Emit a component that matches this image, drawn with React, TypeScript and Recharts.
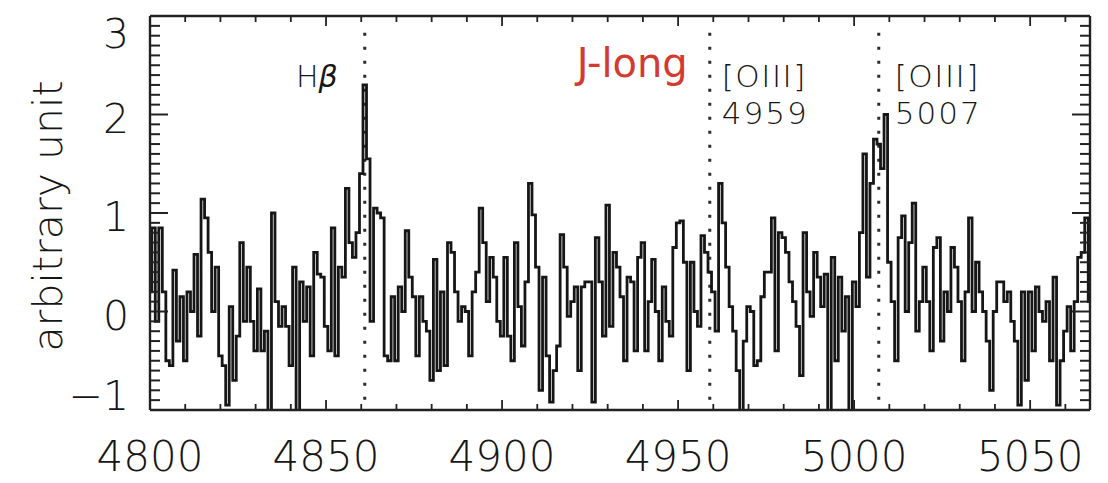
import React from 'react';
import { LineChart, Line, XAxis, YAxis, ReferenceLine } from 'recharts';

// ---- data (flux per 1 Å bin) ----
const flux4800 = [0.2, 0.85, -0.1, 0.85, 0.2, -0.5, -0.55, 0.42, -0.3, 0.15,
  -0.5, 0.2, 0.0, 0.58, -0.25, 1.14, 0.95, 0.6, 0.0, 0.45,
  -0.45, -0.55, -0.95, 0.05, -0.7, -0.25, 0.7, -0.1, 0.45, -0.1,
  -0.4, 0.23, -0.4, -0.2, -1.15, 1.0, 0.1, -0.15, 0.05, -0.15,
  -0.55, 0.45, -1.15, 0.3, -0.1, 0.25, -0.45, 0.6, 0.38, 0.35];
const flux4850 = [-0.15, -0.4, 0.85, -0.45, 0.45, 0.35, 1.25, 0.7, 0.55, 0.8,
  1.4, 2.3, 1.55, -0.1, 1.05, 1.0, 0.95, -0.45, -0.5, 0.15,
  -0.5, 0.25, 0.0, 0.82, 0.35, 0.15, -0.45, 0.15, -0.1, -0.2,
  -0.7, 0.53, -0.6, 0.2, -0.55, 0.7, 0.6, 0.2, -0.1, 0.05,
  0.0, -0.45, 0.2, 0.4, 1.05, 0.7, 0.1, 0.55, 0.35, -0.1];
const flux4900 = [-0.25, 0.55, -0.25, -0.5, 0.7, 0.05, -0.35, 0.3, 1.3, 0.98,
  0.45, -0.8, 0.35, -0.45, -0.92, -0.6, -0.35, 0.78, 0.45, -0.05,
  0.1, 0.25, -0.6, 0.25, 0.3, 0.3, -0.92, 0.75, 0.3, -0.25,
  1.08, -0.15, 0.6, 0.45, 0.15, -0.5, 0.35, 0.3, -0.4, 0.55,
  0.7, -0.4, 0.1, 0.53, 0.0, -0.5, 0.25, -0.1, -0.25, 0.65];
const flux4950 = [0.9, 0.92, 0.5, -0.6, 0.5, 0.0, -0.15, 0.77, 0.6, 0.4,
  0.2, -0.2, 1.3, 0.9, 0.45, 0.05, -0.2, -0.6, -1.15, -0.3,
  0.05, 0.0, -0.55, -0.5, 0.15, 0.4, 0.4, 0.95, -0.4, 0.8,
  0.75, 0.6, 0.3, 0.1, -0.15, -0.65, 0.8, 0.2, -0.05, 0.6,
  0.35, 0.05, 0.38, -1.15, 0.55, -0.5, 0.35, -0.2, 0.15, -1.15];
const flux5000 = [0.3, 0.05, 0.8, 1.6, 0.35, 1.3, 1.75, 1.7, 1.45, 2.0,
  0.5, 0.1, -0.5, 0.75, 0.97, 0.0, 0.7, 1.1, -0.2, 0.1,
  0.45, 0.1, -0.4, 0.65, 0.75, -0.3, 0.2, 0.0, 0.65, 0.45,
  0.1, -0.5, 0.2, 0.95, 0.0, 0.5, 0.2, 0.0, -0.3, -0.8,
  0.0, 0.3, 0.3, 0.1, 0.2, -0.1, -0.3, -0.95, 0.2, -0.7];
const flux5050 = [0.2, -0.4, 0.25, 0.0, -0.1, 0.1, -0.5, 0.35, -0.95, -0.5,
  -0.2, 0.05, -0.4, 0.1, 0.55, 0.6, 0.95, 0.1];

const segmentStarts = [4800, 4850, 4900, 4950, 5000, 5050];
const segments = [flux4800, flux4850, flux4900, flux4950, flux5000, flux5050];

const xDomain = [4800, 5067];
const yDomain = [-1, 3];
const xMajorTicks = [4800, 4850, 4900, 4950, 5000, 5050];
const xMinorTicks = [4800, 4810, 4820, 4830, 4840, 4850, 4860, 4870, 4880, 4890, 4900, 4910, 4920, 4930, 4940, 4950, 4960, 4970, 4980, 4990, 5000, 5010, 5020, 5030, 5040, 5050, 5060];
const yMajorTicks = [-1, 0, 1, 2, 3];
const yMinorTicks = Array.from({ length: 41 }, (_, i) => (i - 10) / 10);

const lineWavelengths = [4861, 4959, 5007];

const data = segments.flatMap((arr, s) => arr.map((v, i) => ({ wl: segmentStarts[s] + i, flux: v })));

// ---- layout ----
const W = 1092;
const H = 475;
const PL = 142;
const PR = 1082;
const PT = 8;
const PB = 402;
const AX = '#222';
const TXT = '#161616';
const FONT = '"DejaVu Sans", "Liberation Sans", sans-serif';

const isMajorY = (v: number) => Math.abs(v - Math.round(v)) < 1e-6;
const fmtY = (v: number) => (v < 0 ? '\u2212' + Math.abs(v) : String(v));

const BottomTick = (props: any) => {
  const { x, payload } = props;
  const v = payload.value;
  const major = xMajorTicks.includes(v);
  const len = major ? 10 : 6;
  return (
    <g>
      <rect x={x - 0.9} y={PB - len} width={1.8} height={len} fill={AX} />
      <rect x={x - 0.9} y={PT} width={1.8} height={len} fill={AX} />
      {major && (
        <text x={x} y={463} textAnchor="middle" fontSize={42} fontWeight={300} fill={TXT} fontFamily={FONT}>{v}</text>
      )}
    </g>
  );
};

const LeftTick = (props: any) => {
  const { y, payload } = props;
  const v = Math.round(payload.value * 10) / 10;
  const major = isMajorY(v);
  const len = major ? 18 : 10;
  let dy = 18;
  if (v === 3) dy = 32;
  if (v === -1) dy = 0;
  return (
    <g>
      <rect x={PL} y={y - 1} width={len} height={2} fill={AX} />
      <rect x={PR - len} y={y - 1} width={len} height={2} fill={AX} />
      {major && yMajorTicks.includes(v) && (
        <text x={121} y={y + dy} textAnchor="end" fontSize={41} fontWeight={300} fill={TXT} fontFamily={FONT}>{fmtY(v)}</text>
      )}
    </g>
  );
};

const makeLineLabel = (idx: number) => (props: any) => {
  const vb = props.viewBox || {};
  const x = vb.x ?? 0;
  if (idx === 0) {
    return (
      <text x={x - 27} y={79} textAnchor="end" fontSize={30} fontWeight={300} fill={TXT} fontFamily={FONT}>
        H<tspan fontStyle="italic">β</tspan>
      </text>
    );
  }
  const num = String(lineWavelengths[idx]);
  const dx = idx === 1 ? 12 : 16;
  return (
    <g>
      {idx === 1 && (
        <text x={x - 22} y={69} textAnchor="end" fontSize={40} fill="#d43a2f" fontFamily={FONT}>J-long</text>
      )}
      <text x={x + dx} y={79} fontSize={31} fontWeight={300} letterSpacing={1.5} fill={TXT} fontFamily={FONT}>[OIII]</text>
      <text x={x + dx} y={116} fontSize={31} fontWeight={300} letterSpacing={2} fill={TXT} fontFamily={FONT}>{num}</text>
    </g>
  );
};

const YTitle = () => (
  <text x={54} y={208} transform="rotate(-90, 54, 208)" textAnchor="middle" fontSize={41} fontWeight={300} fill={TXT} fontFamily={FONT}>
    arbitrary unit
  </text>
);

export default function App() {
  return (
    <div style={{ width: W, height: H }}>
      <LineChart width={W} height={H} data={data} margin={{ top: PT, right: W - PR, left: 0, bottom: 0 }}>
        <XAxis
          dataKey="wl"
          type="number"
          domain={xDomain}
          allowDataOverflow
          ticks={xMinorTicks}
          interval={0}
          height={H - PB}
          tickLine={false}
          axisLine={{ stroke: AX, strokeWidth: 2.4 }}
          tick={BottomTick}
        />
        <YAxis
          type="number"
          domain={yDomain}
          allowDataOverflow
          ticks={yMinorTicks}
          interval={0}
          width={PL}
          tickLine={false}
          axisLine={{ stroke: AX, strokeWidth: 2.4 }}
          tick={LeftTick}
          label={{ content: () => <YTitle /> }}
        />
        <ReferenceLine y={yDomain[1]} stroke={AX} strokeWidth={2.4} />
        <ReferenceLine x={xDomain[1]} stroke={AX} strokeWidth={2.4} />
        {lineWavelengths.map((wl, i) => (
          <ReferenceLine
            key={wl}
            segment={[{ x: wl, y: 2.83 }, { x: wl, y: -0.97 }]}
            stroke="#2a2a2a"
            strokeWidth={3}
            strokeDasharray="3 11"
            label={makeLineLabel(i)}
          />
        ))}
        <Line
          dataKey="flux"
          type="step"
          stroke="#161616"
          strokeWidth={2.8}
          dot={false}
          isAnimationActive={false}
        />
      </LineChart>
    </div>
  );
}
